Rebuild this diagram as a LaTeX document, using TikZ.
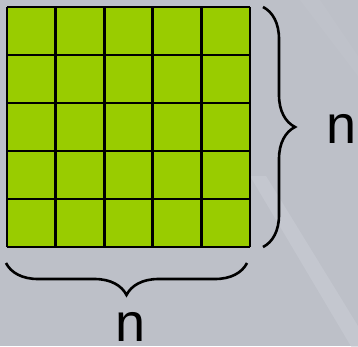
\documentclass[tikz,border=0pt]{standalone}
\usepackage{fontspec}
\setmainfont{Liberation Sans}
\usetikzlibrary{decorations.pathreplacing}
\definecolor{bg}{HTML}{BDC0C8}
\definecolor{streak}{HTML}{C9CCD4}
\definecolor{cellgreen}{HTML}{99CC00}
\tikzset{
  gridline/.style={line width=2.8pt, black},
  bracestyle/.style={decorate, decoration={brace, amplitude=32pt}, line width=2.6pt, black},
  label/.style={font=\fontsize{54}{54}\selectfont, inner sep=0pt}
}
\begin{document}
\begin{tikzpicture}[x=1pt,y=1pt]
\useasboundingbox (0,0) rectangle (358,346);
\fill[bg] (0,0) rectangle (358,346);
\fill[streak, opacity=0.6] (250,170) -- (266,170) -- (358,20) -- (358,-2) -- (352,-2) -- cycle;
\fill[white, opacity=0.04] (300,346) -- (320,346) -- (358,290) -- (358,270) -- cycle;
% grid
\fill[cellgreen] (7,99) rectangle (250,339);
\foreach \i in {0,...,5} {
  \draw[gridline] ({7+\i*48.6},99) -- ({7+\i*48.6},339);
  \draw[gridline] (7,{99+\i*48}) -- (250,{99+\i*48});
}
\coordinate (rt) at (263,339);
\coordinate (rb) at (263,99);
\coordinate (bl) at (6,83);
\coordinate (br) at (247,83);
\draw[bracestyle] (rt) -- (rb);
\draw[bracestyle] (br) -- (bl);
\node[label] (nr) at (342,217) {n};
\node[label] (nb) at (131,19) {n};
\end{tikzpicture}
\end{document}
